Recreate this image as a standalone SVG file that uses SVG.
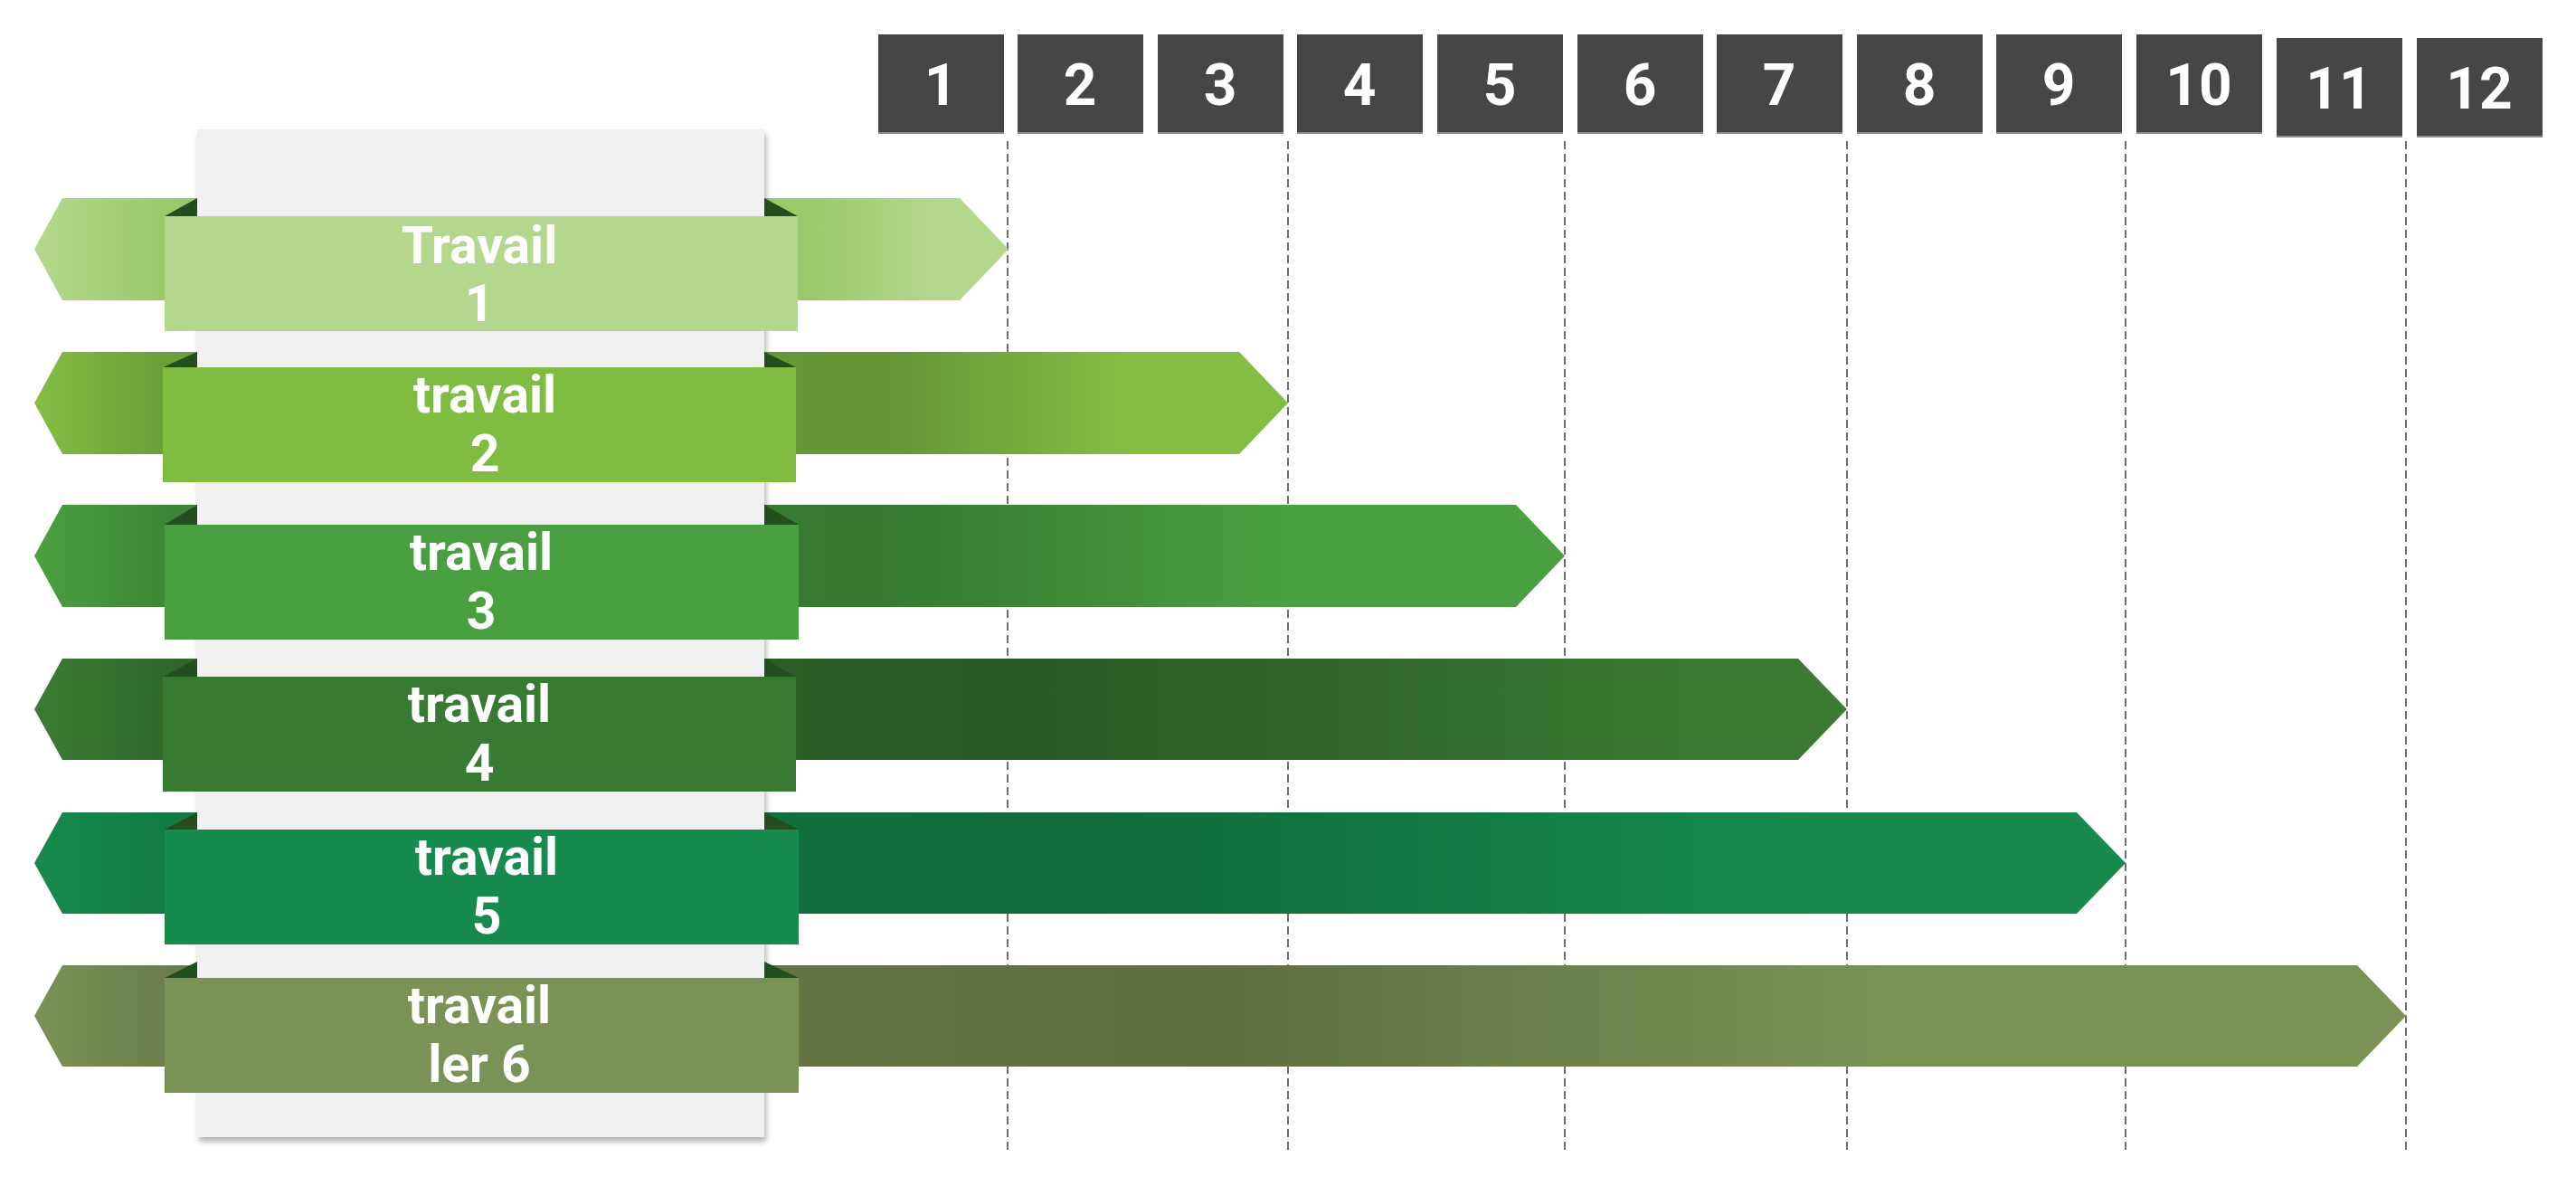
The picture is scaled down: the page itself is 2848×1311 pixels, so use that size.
<svg xmlns="http://www.w3.org/2000/svg" width="2848" height="1311" viewBox="0 0 2848 1311">
<defs>
<style>
.box{fill:#464646;}
.boxline{fill:#8c8c8c;}
.num{font-family:Roboto,"Liberation Sans",sans-serif;font-weight:bold;font-size:64px;fill:#ffffff;text-anchor:middle;}
.lbl{font-family:Roboto,"Liberation Sans",sans-serif;font-weight:bold;font-size:57px;fill:#ffffff;text-anchor:middle;}
.fold{fill:#234f1f;}
.grid{stroke:#4a4a4a;stroke-width:1.6;stroke-dasharray:9 5;fill:none;}
</style>
<filter id="sh" x="-5%" y="-5%" width="110%" height="110%">
<feDropShadow dx="2" dy="5" stdDeviation="3" flood-color="#000" flood-opacity="0.3"/>
</filter>
<linearGradient id="g1" gradientUnits="userSpaceOnUse" x1="38" y1="0" x2="1115" y2="0">
<stop offset="0" stop-color="#b4d88e"/><stop offset="0.13" stop-color="#9bc96a"/><stop offset="0.8" stop-color="#9bc96a"/><stop offset="0.92" stop-color="#b3d78c"/><stop offset="1" stop-color="#b3d78c"/>
</linearGradient>
<linearGradient id="g2" gradientUnits="userSpaceOnUse" x1="38" y1="0" x2="1424" y2="0">
<stop offset="0" stop-color="#84be44"/><stop offset="0.1" stop-color="#6c9f38"/><stop offset="0.68" stop-color="#659535"/><stop offset="0.87" stop-color="#84bd44"/><stop offset="1" stop-color="#84bd44"/>
</linearGradient>
<linearGradient id="g3" gradientUnits="userSpaceOnUse" x1="38" y1="0" x2="1730" y2="0">
<stop offset="0" stop-color="#4aa040"/><stop offset="0.09" stop-color="#3c8636"/><stop offset="0.55" stop-color="#357930"/><stop offset="0.82" stop-color="#4aa040"/><stop offset="1" stop-color="#4aa040"/>
</linearGradient>
<linearGradient id="g4" gradientUnits="userSpaceOnUse" x1="38" y1="0" x2="2042" y2="0">
<stop offset="0" stop-color="#3a7b32"/><stop offset="0.08" stop-color="#2f6829"/><stop offset="0.55" stop-color="#285a24"/><stop offset="0.93" stop-color="#3a7a32"/><stop offset="1" stop-color="#3a7a32"/>
</linearGradient>
<linearGradient id="g5" gradientUnits="userSpaceOnUse" x1="38" y1="0" x2="2350" y2="0">
<stop offset="0" stop-color="#178a4c"/><stop offset="0.07" stop-color="#127a42"/><stop offset="0.5" stop-color="#0f6b3a"/><stop offset="0.85" stop-color="#178a4c"/><stop offset="1" stop-color="#178a4c"/>
</linearGradient>
<linearGradient id="g6" gradientUnits="userSpaceOnUse" x1="38" y1="0" x2="2660" y2="0">
<stop offset="0" stop-color="#7a9256"/><stop offset="0.06" stop-color="#6a7c4a"/><stop offset="0.5" stop-color="#5f6e41"/><stop offset="0.78" stop-color="#7a9256"/><stop offset="1" stop-color="#7a9256"/>
</linearGradient>
</defs>
<rect width="2848" height="1311" fill="#ffffff"/>

<g id="timeline">
<g id="col1"><rect class="box" x="971" y="38" width="139" height="110"/><rect class="boxline" x="971" y="146" width="139" height="2"/><text class="num" x="1040" y="116">1</text></g>
<g id="col2"><rect class="box" x="1125" y="38" width="139" height="110"/><rect class="boxline" x="1125" y="146" width="139" height="2"/><text class="num" x="1194" y="116">2</text></g>
<g id="col3"><rect class="box" x="1280" y="38" width="139" height="110"/><rect class="boxline" x="1280" y="146" width="139" height="2"/><text class="num" x="1349" y="116">3</text></g>
<g id="col4"><rect class="box" x="1434" y="38" width="139" height="110"/><rect class="boxline" x="1434" y="146" width="139" height="2"/><text class="num" x="1503" y="116">4</text></g>
<g id="col5"><rect class="box" x="1589" y="38" width="139" height="110"/><rect class="boxline" x="1589" y="146" width="139" height="2"/><text class="num" x="1658" y="116">5</text></g>
<g id="col6"><rect class="box" x="1744" y="38" width="139" height="110"/><rect class="boxline" x="1744" y="146" width="139" height="2"/><text class="num" x="1813" y="116">6</text></g>
<g id="col7"><rect class="box" x="1898" y="38" width="139" height="110"/><rect class="boxline" x="1898" y="146" width="139" height="2"/><text class="num" x="1967" y="116">7</text></g>
<g id="col8"><rect class="box" x="2053" y="38" width="139" height="110"/><rect class="boxline" x="2053" y="146" width="139" height="2"/><text class="num" x="2122" y="116">8</text></g>
<g id="col9"><rect class="box" x="2207" y="38" width="139" height="110"/><rect class="boxline" x="2207" y="146" width="139" height="2"/><text class="num" x="2276" y="116">9</text></g>
<g id="col10"><rect class="box" x="2362" y="38" width="139" height="110"/><rect class="boxline" x="2362" y="146" width="139" height="2"/><text class="num" x="2431" y="116">10</text></g>
<g id="col11"><rect class="box" x="2517" y="42" width="139" height="110"/><rect class="boxline" x="2517" y="150" width="139" height="2"/><text class="num" x="2586" y="120">11</text></g>
<g id="col12"><rect class="box" x="2672" y="42" width="139" height="110"/><rect class="boxline" x="2672" y="150" width="139" height="2"/><text class="num" x="2741" y="120">12</text></g>
</g>

<g id="connectors">
<line class="grid" x1="1114" y1="156" x2="1114" y2="1272"/>
<line class="grid" x1="1424" y1="156" x2="1424" y2="1272"/>
<line class="grid" x1="1730" y1="156" x2="1730" y2="1272"/>
<line class="grid" x1="2042" y1="156" x2="2042" y2="1272"/>
<line class="grid" x1="2350" y1="156" x2="2350" y2="1272"/>
<line class="grid" x1="2660" y1="156" x2="2660" y2="1272"/>
</g>

<g id="bars">
<polygon fill="url(#g1)" points="69,219 1061,219 1115,275.5 1061,332 69,332 38,275.5"/>
<polygon fill="url(#g2)" points="69,389 1370,389 1424,445.5 1370,502 69,502 38,445.5"/>
<polygon fill="url(#g3)" points="69,558 1676,558 1730,614.5 1676,671 69,671 38,614.5"/>
<polygon fill="url(#g4)" points="69,728 1988,728 2042,784 1988,840 69,840 38,784"/>
<polygon fill="url(#g5)" points="69,898 2296,898 2350,954 2296,1010 69,1010 38,954"/>
<polygon fill="url(#g6)" points="69,1067 2606,1067 2660,1123 2606,1179 69,1179 38,1123"/>
</g>

<g id="panel">
<rect x="218" y="143" width="627" height="1114" fill="#f0f0f0" filter="url(#sh)"/>
</g>

<g id="task1">
<polygon class="fold" points="218,219 182,239 218,239"/><polygon class="fold" points="845,219 882,239 845,239"/>
<rect x="182" y="239" width="700" height="127" fill="#b3d78c"/>
<text class="lbl" x="530" y="291">Travail</text><text class="lbl" x="530" y="355">1</text>
</g>
<g id="task2">
<polygon class="fold" points="218,389 180,406 218,406"/><polygon class="fold" points="845,389 880,406 845,406"/>
<rect x="180" y="406" width="700" height="127" fill="#80bc42"/>
<text class="lbl" x="536" y="456">travail</text><text class="lbl" x="536" y="521">2</text>
</g>
<g id="task3">
<polygon class="fold" points="218,558 182,580 218,580"/><polygon class="fold" points="845,558 883,580 845,580"/>
<rect x="182" y="580" width="701" height="127" fill="#4aa040"/>
<text class="lbl" x="532" y="630">travail</text><text class="lbl" x="532" y="695">3</text>
</g>
<g id="task4">
<polygon class="fold" points="218,728 180,748 218,748"/><polygon class="fold" points="845,728 880,748 845,748"/>
<rect x="180" y="748" width="700" height="127" fill="#377a32"/>
<text class="lbl" x="530" y="798">travail</text><text class="lbl" x="530" y="863">4</text>
</g>
<g id="task5">
<polygon class="fold" points="218,898 182,917 218,917"/><polygon class="fold" points="845,898 883,917 845,917"/>
<rect x="182" y="917" width="701" height="127" fill="#178a4e"/>
<text class="lbl" x="538" y="967">travail</text><text class="lbl" x="538" y="1032">5</text>
</g>
<g id="task6">
<polygon class="fold" points="218,1063 182,1081 218,1081"/><polygon class="fold" points="845,1063 883,1081 845,1081"/>
<rect x="182" y="1081" width="701" height="127" fill="#7a9256"/>
<text class="lbl" x="530" y="1131">travail</text><text class="lbl" x="530" y="1196">ler 6</text>
</g>
</svg>
